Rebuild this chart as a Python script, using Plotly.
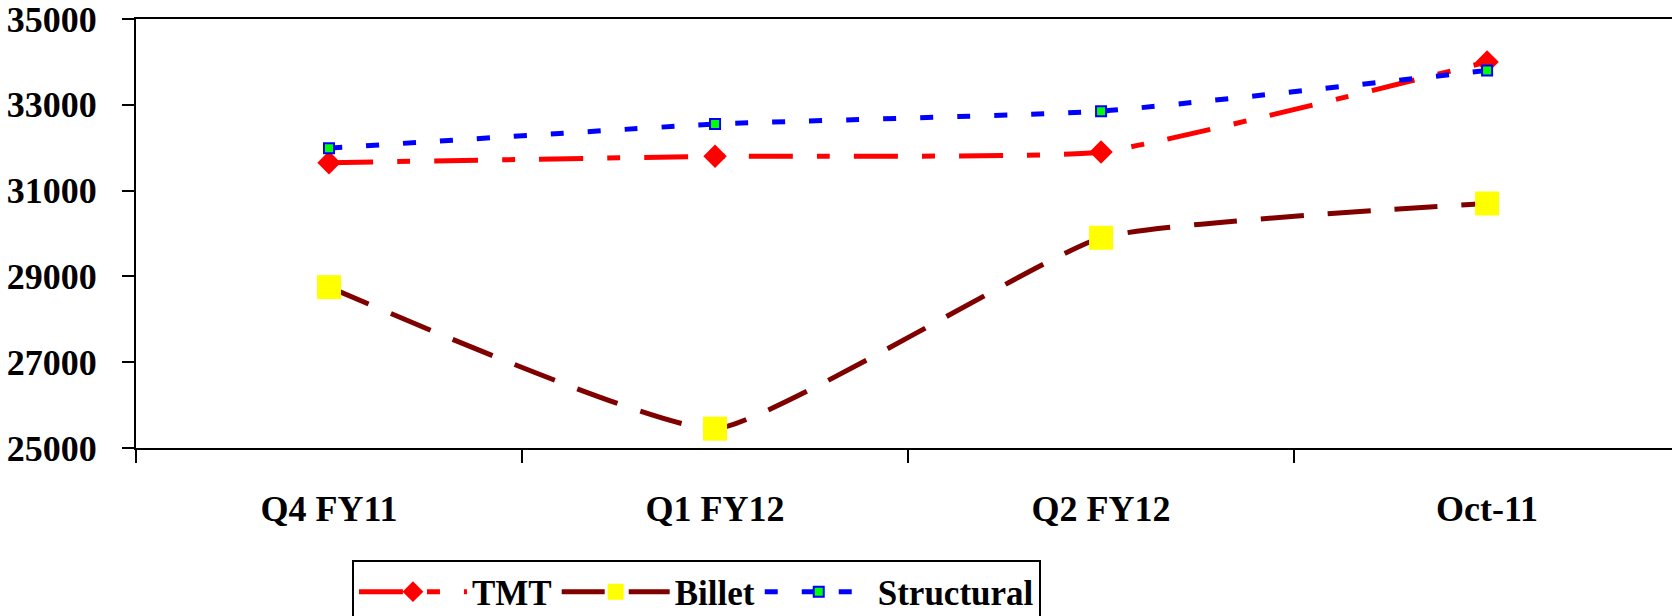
import plotly.graph_objects as go

categories = ["Q4 FY11", "Q1 FY12", "Q2 FY12", "Oct-11"]
tmt = [31650, 31800, 31900, 34000]
billet = [28750, 25450, 29900, 30700]
structural = [31990, 32550, 32850, 33800]
y_ticks = [25000, 27000, 29000, 31000, 33000, 35000]

FONT = "Liberation Serif"
SMOOTH = 0.4

fig = go.Figure()
fig.add_trace(go.Scatter(
    x=categories, y=tmt, name="TMT", mode="lines+markers",
    line=dict(color="#FF0000", width=5, dash="44px,24px,13px,24px", shape="spline", smoothing=SMOOTH),
    marker=dict(symbol="diamond", size=18, color="#FF0000"),
))
fig.add_trace(go.Scatter(
    x=categories, y=billet, name="Billet", mode="lines+markers",
    line=dict(color="#800000", width=5, dash="43px,24px", shape="spline", smoothing=SMOOTH),
    marker=dict(symbol="square", size=24, color="#FFFF00"),
))
fig.add_trace(go.Scatter(
    x=categories, y=structural, name="Structural", mode="lines+markers",
    line=dict(color="#0000FF", width=5, dash="13px,24px", shape="spline", smoothing=SMOOTH),
    marker=dict(symbol="square", size=10, color="#00FF00", line=dict(color="#0000FF", width=2)),
))

fig.update_layout(
    width=1672, height=616,
    margin=dict(l=136, r=0, t=19, b=168, autoexpand=False),
    paper_bgcolor="white", plot_bgcolor="white",
    font=dict(family=FONT, size=36, color="black", weight="bold"),
    showlegend=True,
    legend=dict(
        orientation="h", x=0.1406, y=-0.262, xanchor="left", yanchor="top",
        bordercolor="black", borderwidth=2, bgcolor="white",
        font=dict(family=FONT, size=35, color="black", weight="bold"),
        itemwidth=108,
    ),
)
fig.update_xaxes(
    type="category", range=[-0.5, 3.479], tickson="boundaries",
    ticks="outside", ticklen=13, tickwidth=2, tickcolor="black",
    showline=True, linecolor="black", linewidth=2, mirror=True,
    showgrid=False, zeroline=False, ticklabelstandoff=28, automargin=False,
    tickfont=dict(family=FONT, size=36, color="black", weight="bold"),
)
fig.update_yaxes(
    range=[25000, 35000], tickvals=y_ticks, ticktext=[str(v) for v in y_ticks],
    ticks="outside", ticklen=12, tickwidth=2, tickcolor="black",
    showline=True, linecolor="black", linewidth=2, mirror=False,
    showgrid=False, zeroline=False, ticklabelstandoff=18, automargin=False,
    ticklabeloverflow="allow",
    tickfont=dict(family=FONT, size=36, color="black", weight="bold"),
)

fig.write_html(
    "out.html",
    config={"displayModeBar": False},
    post_script="document.body.style.margin='0';document.body.style.overflow='hidden';",
)
